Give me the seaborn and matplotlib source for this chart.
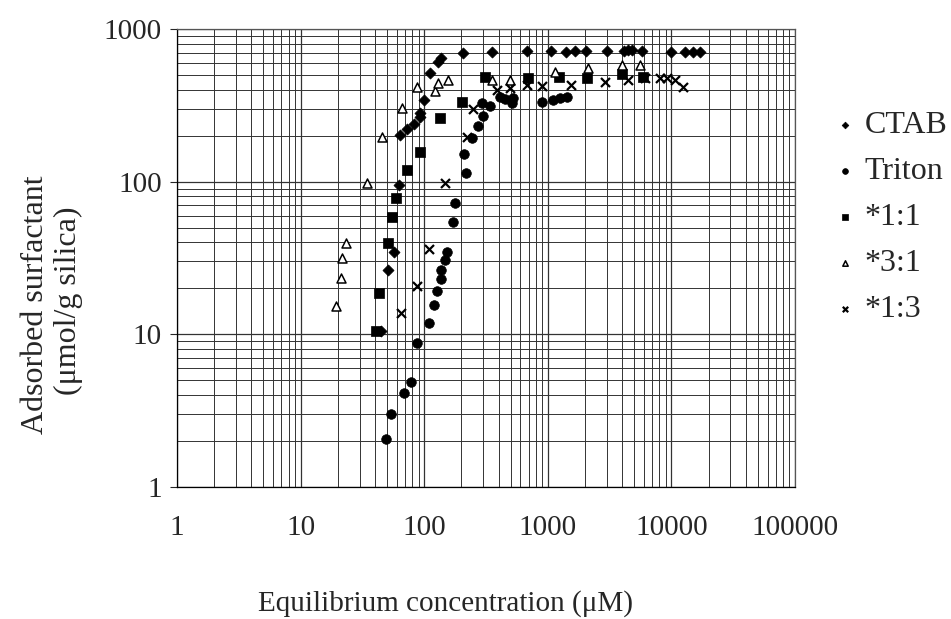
import matplotlib
matplotlib.use("Agg")
import matplotlib.pyplot as plt
import seaborn as sns
import numpy as np
import pandas as pd
from matplotlib.ticker import LogLocator, FixedLocator, NullFormatter

# ---- data ----
ctab_x = [45, 51, 57, 62, 64, 73, 82, 93, 93, 100, 112, 130, 136, 207, 355, 682,
          1067, 1413, 1670, 2050, 3033, 4160, 4486, 4830, 5820, 10000, 12980, 15070, 17180]
ctab_y = [10.5, 26.4, 34.6, 95, 202, 221, 238, 265, 281, 342, 514, 607, 645, 695, 706, 717,
          720, 706, 720, 720, 720, 720, 730, 730, 720, 706, 706, 706, 706]

triton_x = [49, 54, 69, 78, 88, 110, 120, 127, 137, 137, 148, 154, 172, 178, 211, 219,
            245, 274, 294, 300, 342, 412, 453, 516, 526, 902, 1108, 1262, 1438]
triton_y = [2.06, 3.0, 4.1, 4.87, 8.8, 11.9, 15.6, 19.2, 23.0, 26.4, 30.7, 34.6, 54.4, 72.4,
            152, 114, 193, 231, 327, 269, 313, 358, 347, 327, 353, 332, 343, 353, 358]

r11_x = [41, 43, 51, 55, 59, 73, 93, 135, 203, 312, 695, 1239, 2089, 4010, 5930]
r11_y = [10.5, 18.6, 39.6, 58.7, 78, 119, 156, 261, 332, 484, 477, 484, 477, 507, 484]

r31_x = [19.4, 21.3, 21.7, 23.4, 34.5, 45.7, 66, 88, 123, 130, 156, 355, 497, 1150,
         2128, 4010, 5610]
r31_y = [15.3, 23.4, 31.6, 39.6, 98, 196, 303, 417, 392, 442, 463, 463, 463, 522,
         555, 580, 580]

r13_x = [65, 88, 110, 148, 223, 249, 390, 497, 682, 902, 1549, 2922, 4486, 6150,
         8140, 9290, 10770, 12500]
r13_y = [13.8, 20.7, 36.2, 98, 196, 299, 398, 410, 429, 422, 429, 449, 463, 477,
         477, 477, 463, 417]

series_names = ["CTAB", "Triton", "*1:1", "*3:1", "*1:3"]
x_ticks = [1, 10, 100, 1000, 10000, 100000]
y_ticks = [1, 10, 100, 1000]

# ---- plotting ----
sns.set_style("white")
plt.rcParams["font.family"] = ["Liberation Serif", "DejaVu Serif"]

fig = plt.figure(figsize=(9.51, 6.19), dpi=100)
ax = fig.add_axes([177/951, 1-487/619, (795-177)/951, (487-29)/619])
ax.set_xscale("log")
ax.set_yscale("log")
ax.set_xlim(1, 100000)
ax.set_ylim(1, 1000)

# grid
ax.grid(True, which="major", color="#333333", linewidth=0.9)
ax.grid(True, which="minor", color="#333333", linewidth=0.7)
ax.xaxis.set_major_locator(FixedLocator(x_ticks))
ax.yaxis.set_major_locator(FixedLocator(y_ticks))
ax.xaxis.set_minor_locator(LogLocator(base=10, subs=np.arange(2, 10), numticks=20))
ax.yaxis.set_minor_locator(LogLocator(base=10, subs=np.arange(2, 10), numticks=20))
ax.xaxis.set_minor_formatter(NullFormatter())
ax.yaxis.set_minor_formatter(NullFormatter())
ax.set_axisbelow(True)

specs = [
    (ctab_x, ctab_y, "D", 32, "black", "black", 0.5),
    (triton_x, triton_y, "o", 48, "black", "black", 0.5),
    (r11_x, r11_y, "s", 42, "black", "black", 0.5),
    (r31_x, r31_y, "^", 42, "white", "black", 1.1),
    (r13_x, r13_y, "x", 42, "black", "black", 1.6),
]
for name, (xs, ys, m, s, fc, ec, lw) in zip(series_names, specs):
    df = pd.DataFrame({"x": xs, "y": ys})
    if m == "x":
        sns.scatterplot(data=df, x="x", y="y", marker=m, s=s, color="black",
                        linewidth=lw, ax=ax, label=name, zorder=3)
    else:
        sns.scatterplot(data=df, x="x", y="y", marker=m, s=s, facecolor=fc,
                        edgecolor=ec, linewidth=lw, ax=ax, label=name, zorder=3)

ax.set_xticklabels([str(t) for t in x_ticks], fontsize=21)
ax.set_yticklabels([str(t) for t in y_ticks], fontsize=21)
ax.tick_params(axis="x", which="major", length=0, pad=20)
ax.tick_params(axis="y", which="major", length=5, direction="out", left=True, pad=6)
ax.tick_params(axis="y", which="minor", length=0)
ax.tick_params(axis="x", which="minor", length=0)

for sp in ax.spines.values():
    sp.set_color("#555555")
    sp.set_linewidth(0.9)
ax.spines["left"].set_color("black")
ax.spines["bottom"].set_color("black")

ax.set_xlabel("")
ax.set_ylabel("")
fig.text(446/951, 1-604/619, "Equilibrium concentration (\u03bcM)",
         ha="center", va="center", fontsize=21)
fig.text(36/951, 1-305/619, "Adsorbed surfactant", rotation=90,
         ha="center", va="center", fontsize=23)
fig.text(68/951, 1-301/619, "(\u03bcmol/g silica)", rotation=90,
         ha="center", va="center", fontsize=23)

leg = ax.legend(loc="upper left", bbox_to_anchor=(835/951, 1-111/619),
                bbox_transform=fig.transFigure, frameon=False, fontsize=23,
                handletextpad=0.33, labelspacing=0.52, markerscale=0.6,
                handlelength=0.6, borderaxespad=0, borderpad=0)

fig.savefig("out.png", dpi=100, facecolor="white")
